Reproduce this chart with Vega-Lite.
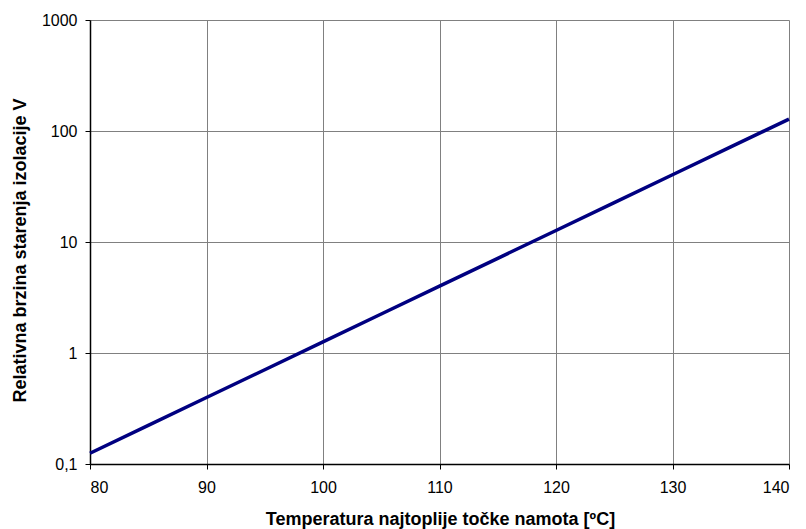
{
  "$schema": "https://vega.github.io/schema/vega-lite/v6.json",
  "width": 699,
  "height": 444,
  "autosize": {"type": "none"},
  "padding": {"left": 90, "top": 20, "right": 17, "bottom": 65},
  "background": "white",
  "config": {
    "view": {"stroke": null},
    "axis": {
      "labelFont": "Liberation Sans",
      "titleFont": "Liberation Sans",
      "labelFontSize": 16,
      "labelColor": "black",
      "titleColor": "black",
      "titleFontSize": 18,
      "titleFontWeight": "bold",
      "gridColor": "#808080",
      "gridWidth": 1,
      "gridOpacity": 1,
      "domainColor": "black",
      "domainWidth": 1.5,
      "tickColor": "black",
      "tickSize": 5,
      "tickWidth": 1
    }
  },
  "data": {
    "values": [
      {"t": 80, "v": 0.125},
      {"t": 85, "v": 0.2227},
      {"t": 90, "v": 0.3969},
      {"t": 95, "v": 0.7071},
      {"t": 100, "v": 1.2599},
      {"t": 105, "v": 2.2449},
      {"t": 110, "v": 4},
      {"t": 115, "v": 7.127},
      {"t": 120, "v": 12.699},
      {"t": 125, "v": 22.627},
      {"t": 130, "v": 40.32},
      {"t": 135, "v": 71.84},
      {"t": 140, "v": 128}
    ]
  },
  "mark": {"type": "line", "color": "#000080", "strokeWidth": 3.5},
  "encoding": {
    "x": {
      "field": "t",
      "type": "quantitative",
      "scale": {"domain": [80, 140], "nice": false, "zero": false},
      "axis": {
        "title": "Temperatura najtoplije točke namota [ºC]",
        "values": [80, 90, 100, 110, 120, 130, 140],
        "labelPadding": 10,
        "titleX": 350,
        "titleY": 46,
        "titleBaseline": "top",
        "titleAnchor": "middle",
        "titleAlign": "center"
      }
    },
    "y": {
      "field": "v",
      "type": "quantitative",
      "scale": {"type": "log", "domain": [0.1, 1000], "nice": false},
      "axis": {
        "title": "Relativna brzina starenja izolacije V",
        "values": [0.1, 1, 10, 100, 1000],
        "labelExpr": "replace(format(datum.value, ''), '.', ',')",
        "labelPadding": 8,
        "titleX": -79,
        "titleY": 230,
        "titleAnchor": "middle",
        "titleAlign": "center",
        "titleBaseline": "top"
      }
    }
  }
}
